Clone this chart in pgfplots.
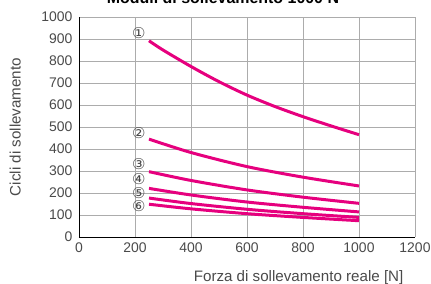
\documentclass[border=0pt]{standalone}
\usepackage{fontspec}
\setmainfont{Liberation Sans}
\newfontfamily\djv{DejaVu Sans}
\usepackage{pgfplots}
\pgfplotsset{compat=1.18}
\definecolor{mag}{HTML}{E6007E}
\definecolor{txt}{HTML}{4A4A4A}
\begin{document}
\begin{tikzpicture}
\begin{axis}[
  at={(0bp,0bp)}, anchor=south west,
  scale only axis, width=336bp, height=220bp,
  xmin=0, xmax=1200, ymin=0, ymax=1000,
  xtick={0,200,...,1200}, ytick={0,100,...,1000},
  axis x line=bottom, axis y line=left,
  axis line style={black, line width=0.9pt, -},
  major tick length=0pt,
  grid=major, grid style={gray!65, line width=0.6pt},
  /pgf/number format/assume math mode=true,
  /pgf/number format/set thousands separator={},
  tick label style={font=\fontsize{14}{16}\selectfont, text=txt},
  yticklabel style={xshift=-3bp},
  xticklabel style={yshift=-2bp},
  xlabel={Forza di sollevamento reale [N]},
  ylabel={Cicli di sollevamento},
  label style={font=\fontsize{15.2}{17}\selectfont, text=txt},
  xlabel style={at={(axis description cs:0.976,0)}, anchor=base east, yshift=-44bp},
  ylabel style={at={(axis description cs:-0.19,0.5)}, anchor=center},
  clip=false,
]
\addplot[mag, line width=3bp, smooth] coordinates {(250,892) (300,850) (400,775) (500,706) (600,645) (700,593) (800,547) (900,505) (1000,465)};
\addplot[mag, line width=3bp, smooth] coordinates {(250,445) (400,384) (600,320) (800,272) (1000,232)};
\addplot[mag, line width=3bp, smooth] coordinates {(250,297) (400,257) (600,214) (800,181) (1000,153)};
\addplot[mag, line width=3bp, smooth] coordinates {(250,221) (400,191) (600,159) (800,135) (1000,114)};
\addplot[mag, line width=3bp, smooth] coordinates {(250,177) (400,152) (600,126) (800,106) (1000,89)};
\addplot[mag, line width=3bp, smooth] coordinates {(250,149) (400,128) (600,106) (800,89) (1000,74)};
\node[inner sep=0pt, font=\djv\fontsize{15}{16}\selectfont, text=txt] at (axis cs:214,926) {①};
\node[inner sep=0pt, font=\djv\fontsize{15}{16}\selectfont, text=txt] at (axis cs:214,471) {②};
\node[inner sep=0pt, font=\djv\fontsize{15}{16}\selectfont, text=txt] at (axis cs:214,330) {③};
\node[inner sep=0pt, font=\djv\fontsize{15}{16}\selectfont, text=txt] at (axis cs:214,262) {④};
\node[inner sep=0pt, font=\djv\fontsize{15}{16}\selectfont, text=txt] at (axis cs:214,199) {⑤};
\node[inner sep=0pt, font=\djv\fontsize{15}{16}\selectfont, text=txt] at (axis cs:214,141) {⑥};
\end{axis}
\node[anchor=base, font=\bfseries\fontsize{16}{18}\selectfont, text=black] at (144bp,233.5bp) {Moduli di sollevamento 1000 N};
\pgfresetboundingbox
\useasboundingbox (-79bp,-47bp) rectangle (352bp,237bp);
\end{tikzpicture}
\end{document}
